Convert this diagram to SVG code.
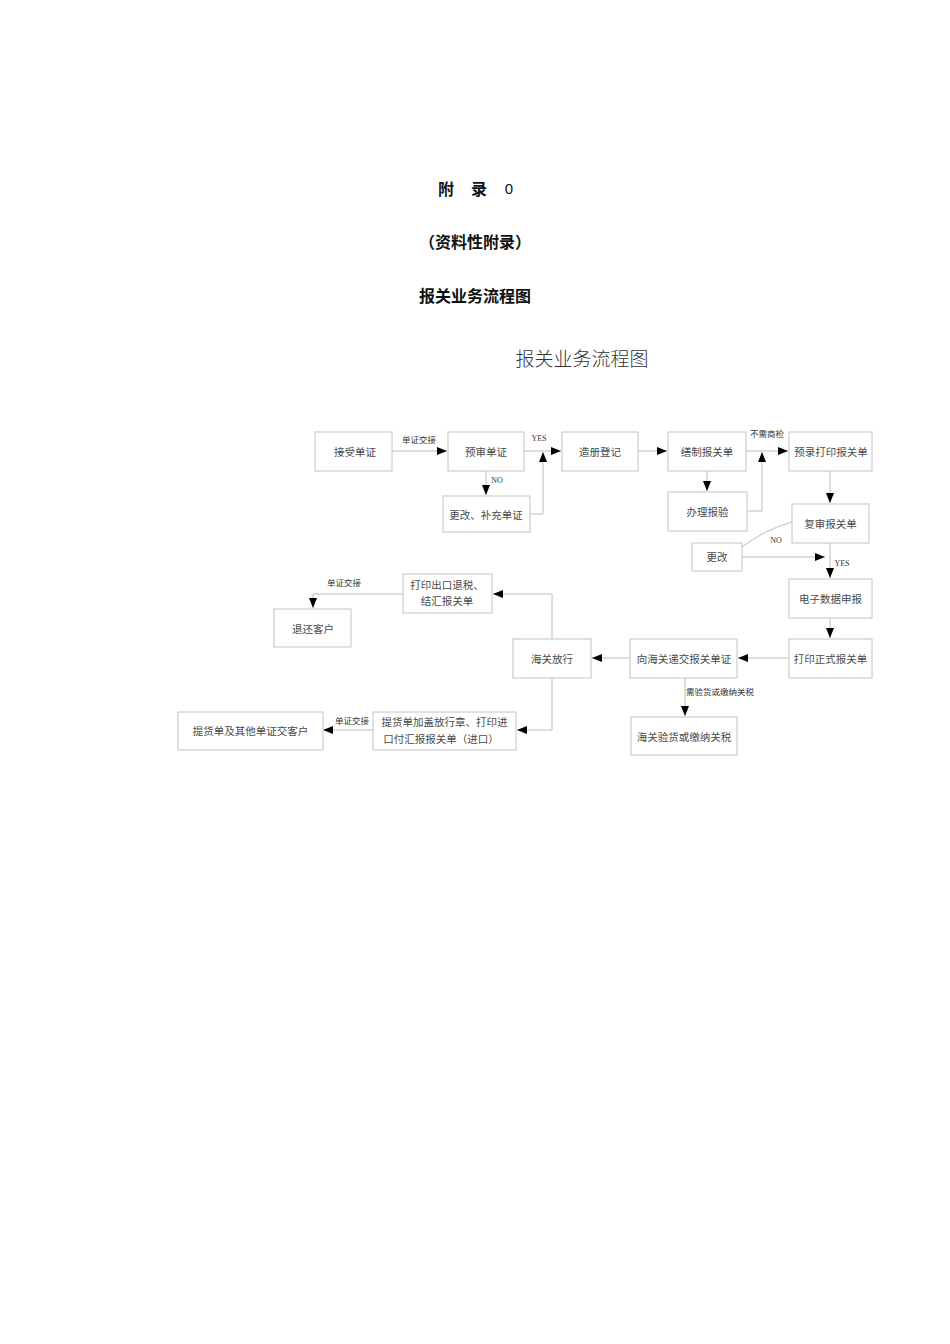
<svg xmlns="http://www.w3.org/2000/svg" width="950" height="1344" viewBox="0 0 950 1344">
<style>
.bx{fill:#fff;stroke:#c4c4c4;stroke-width:1}
.t{font-family:"Noto Sans CJK SC","Noto Sans",sans-serif;font-size:10.5px;fill:#4a4a4a;text-anchor:middle;dominant-baseline:central}
.el{font-family:"Noto Sans CJK SC","Noto Sans",sans-serif;font-size:8.5px;fill:#333;text-anchor:middle;dominant-baseline:central}
.en{font-family:"Liberation Serif",serif;font-size:8px;fill:#333;text-anchor:middle;dominant-baseline:central}
.ln{fill:none;stroke:#bdbdbd;stroke-width:1}
.h{font-family:"Noto Sans CJK SC","Liberation Sans",sans-serif;font-size:16px;font-weight:bold;fill:#111;text-anchor:middle;dominant-baseline:central}
</style>
<defs>
<marker id="ar" markerUnits="userSpaceOnUse" markerWidth="10" markerHeight="10" viewBox="0 0 10 10" refX="10" refY="5" orient="auto">
<path d="M0,1 L10,5 L0,9 Z" fill="#000"/>
</marker>
</defs>
<rect width="950" height="1344" fill="#fff"/>
<g id="titles">
<text class="h" x="446" y="188">附</text>
<text class="h" x="479" y="188">录</text>
<text class="h" x="509" y="188" style="font-weight:normal;font-family:'Liberation Sans',sans-serif;font-size:15px">0</text>
<text class="h" x="475" y="241">（资料性附录）</text>
<text class="h" x="475" y="295">报关业务流程图</text>
<text x="582" y="357" style="font-family:'Noto Sans CJK SC',sans-serif;font-size:19px;font-weight:300;fill:#333;text-anchor:middle;dominant-baseline:central">报关业务流程图</text>
</g>
<g id="connectors">
<path class="ln" d="M392,451 H447" marker-end="url(#ar)"/>
<path class="ln" d="M524,451 H561" marker-end="url(#ar)"/>
<path class="ln" d="M486,471 V495" marker-end="url(#ar)"/>
<path class="ln" d="M530,514 H543 V452" marker-end="url(#ar)"/>
<path class="ln" d="M638,451 H667" marker-end="url(#ar)"/>
<path class="ln" d="M746,451 H788" marker-end="url(#ar)"/>
<path class="ln" d="M707,471 V491" marker-end="url(#ar)"/>
<path class="ln" d="M747,511 H762 V452" marker-end="url(#ar)"/>
<path class="ln" d="M830,471 V503" marker-end="url(#ar)"/>
<path class="ln" d="M830,543 V578" marker-end="url(#ar)"/>
<path class="ln" d="M742,557 H825" marker-end="url(#ar)"/>
<path class="ln" d="M742,547 Q764,530 792,522"/>
<path class="ln" d="M830,618 V638" marker-end="url(#ar)"/>
<path class="ln" d="M788,658 H738" marker-end="url(#ar)"/>
<path class="ln" d="M630,658 H592" marker-end="url(#ar)"/>
<path class="ln" d="M685,678 V716" marker-end="url(#ar)"/>
<path class="ln" d="M552,639 V594 H493" marker-end="url(#ar)"/>
<path class="ln" d="M403,594 H313 V608" marker-end="url(#ar)"/>
<path class="ln" d="M552,678 V730 H517" marker-end="url(#ar)"/>
<path class="ln" d="M373,730 H323" marker-end="url(#ar)"/>
<text class="el" x="419" y="439">单证交接</text>
<text class="en" x="539" y="438">YES</text>
<text class="en" x="497" y="480">NO</text>
<text class="el" x="767" y="433">不需商检</text>
<text class="en" x="776" y="540">NO</text>
<text class="en" x="842" y="563">YES</text>
<text class="el" x="720" y="691">需验货或缴纳关税</text>
<text class="el" x="344" y="582">单证交接</text>
<text class="el" x="352" y="720">单证交接</text>
</g>
<g id="n1"><rect class="bx" x="315" y="432" width="77" height="39"/><text class="t" x="355" y="451">接受单证</text></g>
<g id="n2"><rect class="bx" x="448" y="432" width="76" height="39"/><text class="t" x="486" y="451">预审单证</text></g>
<g id="n3"><rect class="bx" x="562" y="432" width="76" height="39"/><text class="t" x="600" y="451">造册登记</text></g>
<g id="n4"><rect class="bx" x="668" y="432" width="78" height="39"/><text class="t" x="707" y="451">缮制报关单</text></g>
<g id="n5"><rect class="bx" x="789" y="432" width="83" height="39"/><text class="t" x="831" y="451">预录打印报关单</text></g>
<g id="n6"><rect class="bx" x="443" y="496" width="87" height="36"/><text class="t" x="486" y="514">更改、补充单证</text></g>
<g id="n7"><rect class="bx" x="668" y="492" width="79" height="39"/><text class="t" x="707.5" y="511">办理报验</text></g>
<g id="n8"><rect class="bx" x="792" y="504" width="77" height="39"/><text class="t" x="830.5" y="523">复审报关单</text></g>
<g id="n9"><rect class="bx" x="692" y="543" width="50" height="28"/><text class="t" x="717" y="556">更改</text></g>
<g id="n10"><rect class="bx" x="789" y="579" width="83" height="39"/><text class="t" x="830.5" y="598">电子数据申报</text></g>
<g id="n11"><rect class="bx" x="789" y="639" width="83" height="39"/><text class="t" x="830.5" y="658">打印正式报关单</text></g>
<g id="n12"><rect class="bx" x="630" y="639" width="107" height="39"/><text class="t" x="684" y="658">向海关递交报关单证</text></g>
<g id="n13"><rect class="bx" x="513" y="639" width="78" height="39"/><text class="t" x="552" y="658">海关放行</text></g>
<g id="n14"><rect class="bx" x="631" y="717" width="106" height="38"/><text class="t" x="684" y="736">海关验货或缴纳关税</text></g>
<g id="n15"><rect class="bx" x="403" y="574" width="89" height="39"/><text class="t" x="447" y="584">打印出口退税、</text><text class="t" x="447" y="600">结汇报关单</text></g>
<g id="n16"><rect class="bx" x="274" y="609" width="77" height="38"/><text class="t" x="313" y="628">退还客户</text></g>
<g id="n17"><rect class="bx" x="373" y="712" width="143" height="38"/><text class="t" x="444.5" y="721">提货单加盖放行章、打印进</text><text class="t" x="441" y="738">口付汇报报关单（进口）</text></g>
<g id="n18"><rect class="bx" x="178" y="712" width="145" height="38"/><text class="t" x="250.5" y="730">提货单及其他单证交客户</text></g>
</svg>
